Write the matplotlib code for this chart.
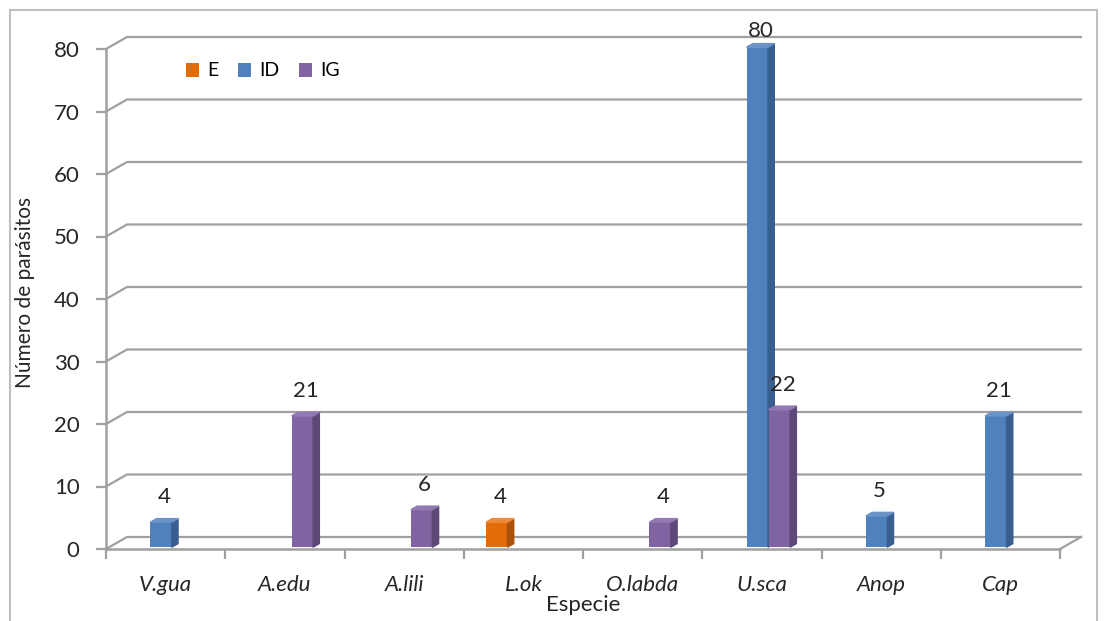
import numpy as np
import matplotlib.pyplot as plt
from matplotlib.patches import Polygon, Rectangle

plt.rcParams['font.family'] = ['Lato', 'DejaVu Sans']

especies = ['V.gua', 'A.edu', 'A.lili', 'L.ok', 'O.labda', 'U.sca', 'Anop', 'Cap']
E  = [np.nan, np.nan, np.nan, 4, np.nan, np.nan, np.nan, np.nan]
ID = [4, np.nan, np.nan, np.nan, np.nan, 80, 5, 21]
IG = [np.nan, 21, 6, np.nan, 4, 22, np.nan, np.nan]
series = [('E', E), ('ID', ID), ('IG', IG)]
yticks = [0, 10, 20, 30, 40, 50, 60, 70, 80]

col_front = {'E': '#E36C0A', 'ID': '#4F81BD', 'IG': '#8064A2'}
col_side = {'E': '#A9520A', 'ID': '#3A5F8E', 'IG': '#5D4878'}
col_top = {'E': '#EE8A3A', 'ID': '#6A93C8', 'IG': '#9279B4'}
grid_c = '#A0A0A0'

W, H = 1108, 621
fig = plt.figure(figsize=(W / 100, H / 100), dpi=100)
ax = fig.add_axes([106 / W, 72 / H, 954 / W, 500 / H])
ax.set_xlim(-0.5, len(especies) - 0.5)
ax.set_ylim(0, 80)

# profundidad del "3D"
DX, DY = 0.176, 1.92
fx, fy = 0.15 * DX, 0.15 * DY      # cara frontal de las barras
ddx, ddy = 0.30 * DX, 0.30 * DY    # fondo de las barras
bw, pitch, shift = 0.18, 0.185, -0.065

# rejilla en la pared del fondo
x0, x1 = -0.5, len(especies) - 0.5
for v in yticks:
    ax.plot([x0, x0 + DX, x1 + DX], [v, v + DY, v + DY], color=grid_c, lw=1.6,
            clip_on=False, zorder=1, solid_joinstyle='miter')
ax.plot([x1, x1 + DX], [0, DY], color=grid_c, lw=1.6, clip_on=False, zorder=1)

x = np.arange(len(especies))
handles = []
for k, (name, vals) in enumerate(series):
    vals = np.array(vals, dtype=float)
    xc = x + (k - 1) * pitch + shift + fx
    b = ax.bar(xc, vals, width=bw, bottom=fy, color=col_front[name], label=name,
               zorder=3 + k, clip_on=False)
    handles.append(b)
    for xi, v in zip(xc, vals):
        if np.isnan(v):
            continue
        xl, xr, top = xi - bw / 2, xi + bw / 2, v + fy
        ax.add_patch(Polygon([(xr, fy), (xr, top), (xr + ddx, top + ddy), (xr + ddx, fy + ddy)],
                             closed=True, color=col_side[name], zorder=3 + k, clip_on=False))
        ax.add_patch(Polygon([(xl, top), (xr, top), (xr + ddx, top + ddy), (xl + ddx, top + ddy)],
                             closed=True, color=col_top[name], zorder=3 + k, clip_on=False))
        ax.text(xi + ddx / 2, min(top + ddy + 3.4, 82.9), '%d' % v, ha='center', va='center',
                fontsize=16, color='#262626', zorder=10)

# ejes
for s in ['top', 'right']:
    ax.spines[s].set_visible(False)
ax.spines['left'].set_color(grid_c)
ax.spines['left'].set_linewidth(1.8)
ax.spines['left'].set_bounds(0, 80)
ax.spines['bottom'].set_color(grid_c)
ax.spines['bottom'].set_linewidth(1.8)

ax.set_yticks(yticks)
ax.tick_params(axis='y', length=7, width=1.6, color=grid_c, pad=12, labelsize=16,
               labelcolor='#262626')
ax.set_xticks(x)
ax.set_xticklabels(especies, fontstyle='italic')
ax.set_xticks(np.arange(len(especies) + 1) - 0.5, minor=True)
ax.tick_params(axis='x', which='major', length=0, pad=19, labelsize=16, labelcolor='#262626')
ax.tick_params(axis='x', which='minor', length=7, width=1.6, color=grid_c)

ax.set_ylabel('Número de parásitos', fontsize=15, color='#262626')
ax.yaxis.set_label_coords(-0.074, 0.514)
ax.text(0.5, -0.112, 'Especie', transform=ax.transAxes, ha='center', va='center',
        fontsize=16, color='#262626')

ax.legend(handles=handles, loc='center left', bbox_to_anchor=(168 / W, 1 - 71 / H),
          bbox_transform=fig.transFigure, ncol=3, frameon=False, fontsize=14,
          handlelength=0.7, handleheight=0.7, handletextpad=0.4, columnspacing=1.0)

fig.patches.append(Rectangle((10 / W, -0.1), 1087 / W, 1.1 - 10 / H, transform=fig.transFigure,
                             fill=False, edgecolor='#BFBFBF', lw=1.5))

fig.savefig('out.png', dpi=100)
